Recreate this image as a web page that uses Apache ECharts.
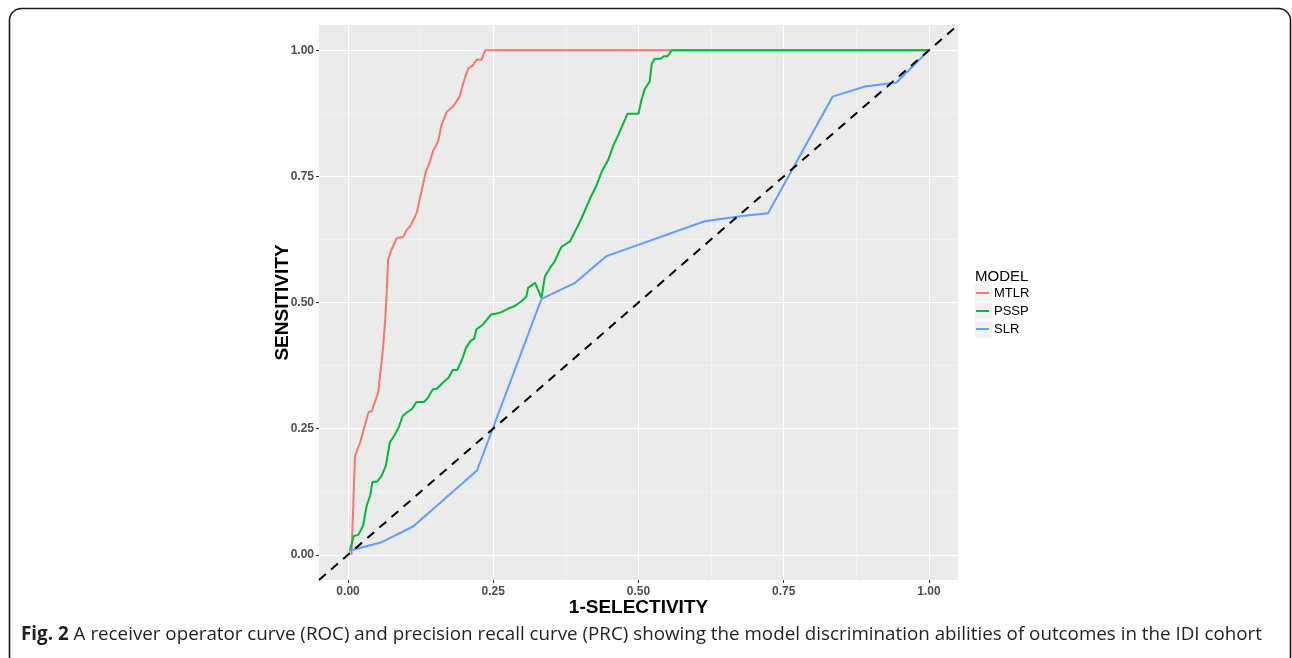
<!DOCTYPE html>
<html>
<head>
<meta charset="utf-8">
<script src="https://cdn.jsdelivr.net/npm/echarts@6/dist/echarts.min.js"></script>
<style>
html,body{margin:0;padding:0;background:#fff;}
#chart{width:1292px;height:658px;}
</style>
</head>
<body>
<div id="chart"></div>
<script>
// ---- data ----
const modelNames = ['MTLR', 'PSSP', 'SLR'];
const tickValues = [0, 0.25, 0.5, 0.75, 1];
const minorValues = [0.125, 0.375, 0.625, 0.875];

const mtlrX = [0.006,0.012,0.021,0.035,0.041,0.046,0.052,0.055,0.060,0.064,0.066,0.069,0.075,0.084,0.095,0.101,0.107,0.118,0.127,0.134,0.140,0.147,0.155,0.161,0.170,0.181,0.192,0.199,0.207,0.215,0.221,0.230,0.236,1.000];
const mtlrY = [0.000,0.196,0.223,0.282,0.285,0.302,0.322,0.354,0.407,0.466,0.506,0.585,0.605,0.628,0.630,0.644,0.651,0.677,0.723,0.760,0.776,0.802,0.819,0.852,0.878,0.889,0.908,0.937,0.964,0.970,0.981,0.981,1.000,1.000];

const psspX = [0.003,0.010,0.018,0.026,0.032,0.038,0.042,0.050,0.058,0.065,0.072,0.081,0.087,0.094,0.101,0.110,0.118,0.131,0.138,0.146,0.153,0.163,0.173,0.180,0.188,0.197,0.203,0.211,0.217,0.221,0.232,0.239,0.246,0.256,0.264,0.276,0.287,0.299,0.307,0.310,0.322,0.333,0.339,0.348,0.356,0.365,0.368,0.382,0.394,0.402,0.417,0.428,0.437,0.448,0.457,0.468,0.481,0.500,0.505,0.511,0.519,0.523,0.528,0.538,0.544,0.550,0.557,1.000];
const psspY = [0.008,0.037,0.040,0.058,0.097,0.117,0.144,0.145,0.157,0.176,0.223,0.239,0.252,0.275,0.282,0.289,0.303,0.303,0.312,0.328,0.329,0.341,0.351,0.366,0.366,0.389,0.410,0.424,0.428,0.447,0.456,0.466,0.476,0.478,0.481,0.488,0.493,0.503,0.512,0.529,0.539,0.509,0.552,0.569,0.582,0.605,0.611,0.621,0.648,0.667,0.707,0.733,0.760,0.783,0.812,0.839,0.874,0.874,0.901,0.924,0.937,0.974,0.983,0.983,0.988,0.988,1.000,1.000];

const slrX = [0.002,0.058,0.112,0.222,0.333,0.391,0.445,0.614,0.675,0.723,0.834,0.890,0.944,1.000];
const slrY = [0.008,0.025,0.056,0.167,0.507,0.539,0.592,0.661,0.671,0.677,0.908,0.928,0.936,1.000];

const refLineX = [-0.05, 1.05];
const refLineY = [-0.05, 1.05];

const captionBold = 'Fig. 2';
const captionText = 'A receiver operator curve (ROC) and precision recall curve (PRC) showing the model discrimination abilities of outcomes in the IDI cohort';

// ---- build ----
function pairs(xs, ys) { return xs.map((x, i) => [x, ys[i]]); }
const colors = ['#F8766D', '#00BA38', '#619CFF'];
const seriesData = [pairs(mtlrX, mtlrY), pairs(psspX, psspY), pairs(slrX, slrY)];

const chart = echarts.init(document.getElementById('chart'), null, {renderer: 'canvas'});

const tickLabelStyle = {
  fontFamily: 'Liberation Sans, Arial, sans-serif',
  fontSize: 12,
  fontWeight: 'bold',
  color: '#4D4D4D'
};

const series = modelNames.map((name, i) => ({
  name: name,
  type: 'line',
  data: seriesData[i],
  xAxisIndex: 0,
  yAxisIndex: 0,
  showSymbol: false,
  symbol: 'none',
  lineStyle: {color: colors[i], width: 2},
  itemStyle: {color: colors[i]},
  z: 3
}));
series.push({
  name: 'diag',
  type: 'line',
  data: pairs(refLineX, refLineY),
  xAxisIndex: 0,
  yAxisIndex: 0,
  showSymbol: false,
  symbol: 'none',
  lineStyle: {color: '#000', width: 2, type: [9, 7]},
  z: 4
});

const option = {
  animation: false,
  backgroundColor: '#ffffff',
  title: [
    {
      left: 21,
      top: 625,
      padding: 0,
      text: '{b|' + captionBold + '} {r|' + captionText + '}',
      textStyle: {
        rich: {
          b: {fontFamily: 'Open Sans, sans-serif', fontSize: 18.8, fontWeight: 'bold', color: '#231f20'},
          r: {fontFamily: 'Open Sans, sans-serif', fontSize: 18.8, fontWeight: 'normal', color: '#231f20'}
        }
      }
    },
    {
      left: 975,
      top: 269,
      padding: 0,
      text: 'MODEL',
      textStyle: {fontFamily: 'Liberation Sans, Arial, sans-serif', fontSize: 15, fontWeight: 'normal', color: '#000'}
    }
  ],
  legend: {
    data: modelNames.map(n => ({name: n, icon: 'rect'})),
    orient: 'vertical',
    left: 976,
    top: 284,
    itemWidth: 13,
    itemHeight: 2,
    itemGap: 0,
    padding: 0,
    textStyle: {fontFamily: 'Liberation Sans, Arial, sans-serif', fontSize: 13, color: '#000', lineHeight: 18}
  },
  grid: {
    left: 319, right: 334, top: 25, bottom: 78,
    show: true, backgroundColor: '#EBEBEB', borderWidth: 0,
    containLabel: false
  },
  xAxis: [
    {
      type: 'value', min: -0.05, max: 1.05, position: 'bottom',
      name: '1-SELECTIVITY', nameLocation: 'middle', nameGap: 18, nameMoveOverlap: false,
      nameTextStyle: {fontFamily: 'Liberation Sans, Arial, sans-serif', fontSize: 19, fontWeight: 'bold', color: '#000'},
      axisLine: {show: false, onZero: false},
      axisTick: {show: true, length: 3, customValues: tickValues, lineStyle: {color: '#333333', width: 1}},
      axisLabel: Object.assign({customValues: tickValues, margin: 6, formatter: v => v.toFixed(2)}, tickLabelStyle),
      splitLine: {show: true, lineStyle: {color: '#FFFFFF', width: 1.1}},
      z: 1
    },
    {
      type: 'value', min: -0.05, max: 1.05, position: 'top',
      axisLine: {show: false, onZero: false},
      axisTick: {show: false, customValues: minorValues},
      axisLabel: {show: false},
      splitLine: {show: true, lineStyle: {color: '#F7F7F7', width: 0.6}},
      z: 0
    }
  ],
  yAxis: [
    {
      type: 'value', min: -0.05, max: 1.05, position: 'left',
      name: 'SENSITIVITY', nameLocation: 'middle', nameGap: 27, nameRotate: 90, nameMoveOverlap: false,
      nameTextStyle: {fontFamily: 'Liberation Sans, Arial, sans-serif', fontSize: 19, fontWeight: 'bold', color: '#000'},
      axisLine: {show: false, onZero: false},
      axisTick: {show: true, length: 3, customValues: tickValues, lineStyle: {color: '#333333', width: 1}},
      axisLabel: Object.assign({customValues: tickValues, margin: 5, formatter: v => v.toFixed(2)}, tickLabelStyle),
      splitLine: {show: true, lineStyle: {color: '#FFFFFF', width: 1.1}},
      z: 1
    },
    {
      type: 'value', min: -0.05, max: 1.05, position: 'right',
      axisLine: {show: false, onZero: false},
      axisTick: {show: false, customValues: minorValues},
      axisLabel: {show: false},
      splitLine: {show: true, lineStyle: {color: '#F7F7F7', width: 0.6}},
      z: 0
    }
  ],
  graphic: [
    {
      type: 'rect',
      shape: {x: 9.5, y: 8.5, width: 1281, height: 660, r: 12},
      style: {fill: 'none', stroke: '#1a1a1a', lineWidth: 1.6},
      silent: true, z: 100
    },
    {type: 'rect', shape: {x: 975, y: 284.5, width: 17, height: 17}, style: {fill: '#F2F2F2'}, z: -1, silent: true},
    {type: 'rect', shape: {x: 975, y: 302.5, width: 17, height: 17}, style: {fill: '#F2F2F2'}, z: -1, silent: true},
    {type: 'rect', shape: {x: 975, y: 320.5, width: 17, height: 17}, style: {fill: '#F2F2F2'}, z: -1, silent: true}
  ],
  series: series
};

chart.setOption(option);
</script>
</body>
</html>
